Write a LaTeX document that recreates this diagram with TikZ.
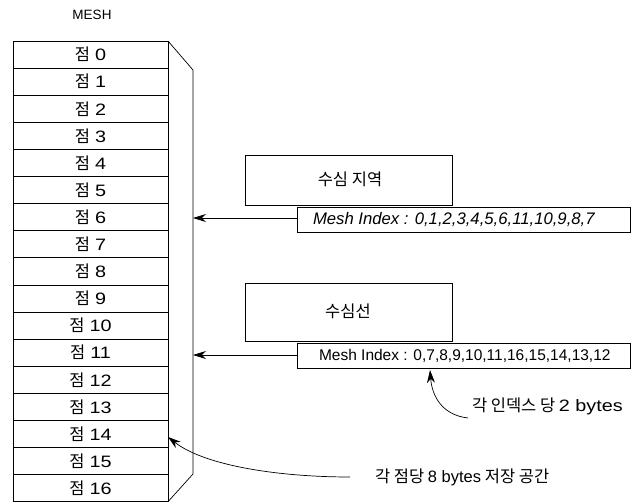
\documentclass[tikz,border=0pt]{standalone}
\usepackage{fontspec}
\setmainfont{Noto Sans CJK KR}
\newfontfamily\latinsf{Liberation Sans}
\newfontfamily\widesf[FakeStretch=1.2]{Liberation Sans}
\usetikzlibrary{arrows.meta}
\begin{document}
\begin{tikzpicture}[x=1pt,y=-1pt,
  every node/.style={inner sep=0pt, outer sep=0pt},
  cell/.style={draw, line width=0.7pt, minimum width=155pt, minimum height=27.1pt, font=\fontsize{16.5}{17}\selectfont},
  region/.style={draw, line width=0.7pt, minimum width=207pt},
  idxbox/.style={draw, fill=white, line width=0.7pt, minimum width=333pt, minimum height=25pt},
  idxtxt/.style={anchor=west, font=\latinsf\fontsize{16}{17}\selectfont},
  lbl/.style={font=\fontsize{16.5}{17}\selectfont},
  arr/.style={line width=0.7pt, -{Stealth[length=13pt,width=8pt]}},
  thin/.style={line width=0.7pt}]
\useasboundingbox (0,0) rectangle (638,503);
\node[font=\latinsf\fontsize{13.5}{14}\selectfont] (mesh) at (92,15) {MESH};
\foreach \i in {0,...,16}{
  \node[cell] (r\i) at (90.5,{41+27.1*(\i+0.5)}) {점\hspace{5pt}{\widesf\i}};
}
\coordinate (sTop) at (193,70);
\coordinate (sBot) at (193,474);
\draw[thin] (r0.north east) -- (sTop) -- (sBot) -- (r16.south east);
% regions
\node[region, minimum height=50pt] (reg1) at (349,180) {};
\node[lbl] (reg1t) at (350,179) {수심 지역};
\node[region, minimum height=58pt] (reg2) at (349,312) {};
\node[lbl] (reg2t) at (348,311) {수심선};
\node[idxbox] (idx1) at (463.5,219.5) {};
\node[idxtxt, font=\latinsf\fontsize{16.7}{17}\selectfont] (idx1t) at (313,219.5) {\itshape Mesh Index : 0,1,2,3,4,5,6,11,10,9,8,7};
\node[idxbox] (idx2) at (463.5,356) {};
\node[idxtxt, font=\latinsf\fontsize{15.5}{17}\selectfont] (idx2t) at (319,356) {Mesh Index : 0,7,8,9,10,11,16,15,14,13,12};
\coordinate (t6) at (193,218);
\coordinate (t11) at (193,355);
\draw[arr] (idx1.west |- t6) -- (t6);
\draw[arr] (idx2.west |- t11) -- (t11);
% annotations
\node[lbl, anchor=west] (ann1) at (472,406) {각 인덱스 당 {\widesf 2 bytes}};
\coordinate (a1s) at (468,418);
\draw[arr] (a1s) .. controls (442,415) and (432,396) .. (430,370);
\node[lbl, anchor=west] (ann2) at (375,477) {각 점당 {\latinsf 8 bytes} 저장 공간};
\coordinate (a2s) at (350,477);
\draw[arr] (a2s) .. controls (280,477) and (205,466) .. ([yshift=-3pt]r14.east);
\end{tikzpicture}
\end{document}
